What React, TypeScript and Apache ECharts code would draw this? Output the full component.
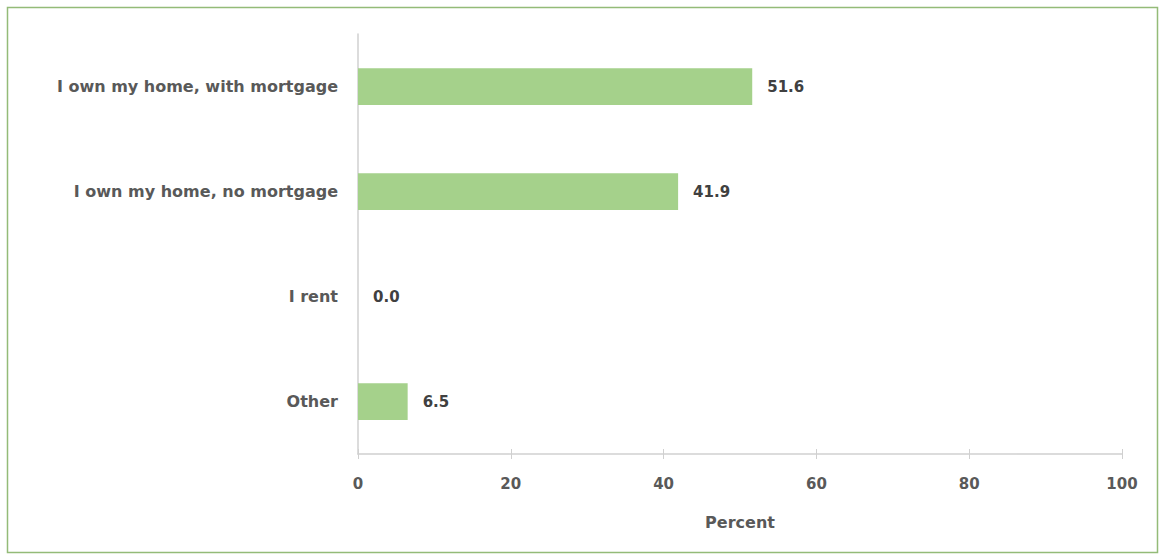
import React, { useEffect, useRef } from "react";
import * as echarts from "echarts";

const categories = [
  "I own my home, with mortgage",
  "I own my home, no mortgage",
  "I rent",
  "Other",
];
const values = [51.6, 41.9, 0.0, 6.5];
const axisName = "Percent";

export default function App() {
  const ref = useRef<HTMLDivElement>(null);
  useEffect(() => {
    document.body.style.margin = "0";
    const chart = echarts.init(ref.current!, null, { renderer: "svg" });
    const font = "'DejaVu Sans', sans-serif";
    chart.setOption({
      animation: false,
      backgroundColor: "#ffffff",
      grid: { left: 358, right: 39, top: 34, bottom: 106, containLabel: false },
      graphic: [
        {
          type: "rect",
          shape: { x: 7.5, y: 7.5, width: 1150, height: 545 },
          style: { fill: "none", stroke: "#94bb78", lineWidth: 1.5 },
          silent: true,
        },
      ],
      xAxis: [
        {
          type: "value",
          min: 0,
          max: 100,
          interval: 20,
          name: axisName,
          nameLocation: "middle",
          nameGap: 60,
          nameTextStyle: { color: "#595959", fontSize: 16, fontFamily: font, fontWeight: "bold" },
          axisLine: { show: true, lineStyle: { color: "#d0d0d0", width: 1.5 } },
          axisTick: { show: true, length: 5, lineStyle: { color: "#d0d0d0" } },
          axisLabel: { color: "#595959", fontSize: 15, fontFamily: font, fontWeight: "bold", margin: 22 },
          splitLine: { show: false },
        },
        {
          type: "value",
          position: "bottom",
          min: 0,
          max: 100,
          interval: 20,
          axisLine: { show: false },
          axisTick: { show: true, inside: true, length: 5, lineStyle: { color: "#d0d0d0" } },
          axisLabel: { show: false },
          splitLine: { show: false },
        },
      ],
      yAxis: {
        type: "category",
        data: categories,
        inverse: true,
        axisLine: { show: true, lineStyle: { color: "#d0d0d0", width: 1.5 } },
        axisTick: { show: false },
        axisLabel: { color: "#595959", fontSize: 16, fontFamily: font, fontWeight: "bold", margin: 20 },
        splitLine: { show: false },
      },
      series: [
        {
          type: "bar",
          data: values,
          xAxisIndex: 0,
          barWidth: "35%",
          itemStyle: { color: "#a5d18b" },
          label: {
            show: true,
            position: "right",
            distance: 15,
            color: "#404040",
            fontSize: 15,
            fontFamily: font,
            fontWeight: "bold",
            formatter: (p: any) => Number(p.value).toFixed(1),
          },
        },
      ],
    });
    return () => chart.dispose();
  }, []);
  return (
    <div
      ref={ref}
      style={{ position: "absolute", left: 0, top: 0, width: 1161, height: 560 }}
    />
  );
}
